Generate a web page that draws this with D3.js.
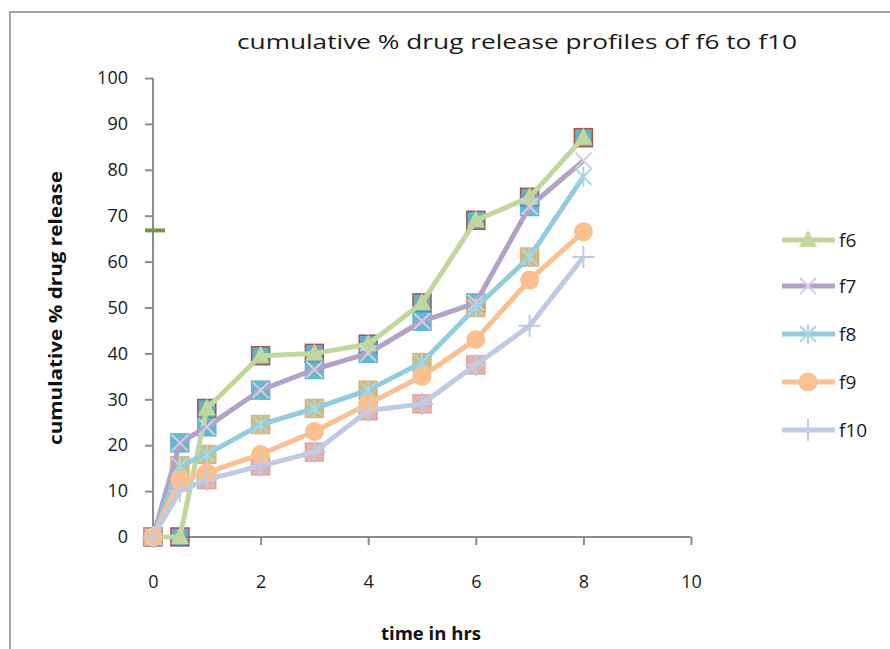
<!DOCTYPE html>
<html>
<head>
<meta charset="utf-8">
<script src="https://cdn.jsdelivr.net/npm/d3@7"></script>
<style>
  body { margin: 0; background: #fff; }
  svg { display: block; font-family: "Open Sans", "Liberation Sans", sans-serif; }
</style>
</head>
<body>
<svg id="chart" width="890" height="649"></svg>
<script>
"use strict";

// time points (hrs)
const times = [0, 0.5, 1, 2, 3, 4, 5, 6, 7, 8];

// cumulative % drug release
const f6 = [0, 0, 28, 39.5, 40, 42, 51, 69, 74, 87];
const f7 = [0, 20.5, 24, 32, 36.5, 40, 47, 51, 72, 82];
const f8 = [0, 15.5, 18, 24.5, 28, 32, 38, 50, 61, 78.5];
const f9 = [0, 12.5, 14, 18, 23, 29, 35, 43, 56, 66.5];
const f10 = [0, 10, 12.5, 15.5, 18.5, 27.5, 29, 37.5, 46, 61];

const seriesNames = ["f6", "f7", "f8", "f9", "f10"];
const seriesValues = [f6, f7, f8, f9, f10];

// leftover square markers that sit under some series in the original
// (which time points of each series show one)
const ghostF6 = [0, 0.5, 1, 2, 3, 4, 5, 6, 7, 8];
const ghostF7 = [0.5, 1, 2, 3, 4, 5, 6, 7];
const ghostF8 = [0.5, 1, 2, 3, 4, 5, 6, 7];
const ghostF10 = [0, 1, 2, 3, 4, 5, 6];
const ghostTimes = { f6: ghostF6, f7: ghostF7, f8: ghostF8, f10: ghostF10 };

// stray dash marker on the y axis
const strayTime = [0];
const strayValue = [66.8];

const xTicks = [0, 2, 4, 6, 8, 10];
const yTicks = [0, 10, 20, 30, 40, 50, 60, 70, 80, 90, 100];

const style = {
  f6:  { line: "#c3d69b", marker: "triangle", fill: "#c3d69b", ghost: "#4ba3bb", ghostStroke: "#8e3b39" },
  f7:  { line: "#b3a2c7", marker: "x", fill: "#d5cce3", ghost: "#4bacc6", ghostStroke: "#4bacc6" },
  f8:  { line: "#93cddd", marker: "star", fill: "#a9d6e3", ghost: "#c3b46a", ghostStroke: "#e8a05a" },
  f9:  { line: "#fac090", marker: "circle", fill: "#fac090" },
  f10: { line: "#c0cbe3", marker: "plus", fill: "#c0cbe3", ghost: "#dba7a6", ghostStroke: "#d99694" }
};

const svg = d3.select("#chart");

// chart frame
svg.append("rect")
  .attr("x", 10).attr("y", 12)
  .attr("width", 900).attr("height", 660)
  .attr("fill", "#fff")
  .attr("stroke", "#a6a6a6")
  .attr("stroke-width", 2);

const x = d3.scaleLinear().domain([0, 10]).range([153, 691]);
const y = d3.scaleLinear().domain([0, 100]).range([537, 78]);

const axisColor = "#8c8c8c";

// y axis
const yAxis = svg.append("g")
  .attr("transform", `translate(${x(0)},0)`)
  .call(d3.axisLeft(y).tickValues(yTicks).tickSize(8).tickPadding(17));
// x axis
const xAxis = svg.append("g")
  .attr("transform", `translate(0,${y(0)})`)
  .call(d3.axisBottom(x).tickValues(xTicks).tickSize(8).tickPadding(30));

[yAxis, xAxis].forEach(g => {
  g.select(".domain").attr("stroke", axisColor).attr("stroke-width", 2);
  g.selectAll(".tick line").attr("stroke", axisColor).attr("stroke-width", 2);
  g.selectAll(".tick text")
    .attr("fill", "#1a1a1a")
    .style("font-size", "18px")
    .style("font-family", "'Open Sans', sans-serif");
});
xAxis.select(".domain").attr("d", `M${x(0)},0H${x(10)}`);
xAxis.selectAll(".tick").filter(d => d === 0).select("line").remove();
yAxis.select(".domain").attr("d", `M0,${y(0)}V${y(100)}`);

// title
svg.append("text")
  .attr("x", 517).attr("y", 49)
  .attr("text-anchor", "middle")
  .attr("textLength", 560)
  .attr("lengthAdjust", "spacingAndGlyphs")
  .style("font-size", "20px")
  .attr("fill", "#1a1a1a")
  .text("cumulative % drug release profiles of  f6 to f10");

// axis titles
svg.append("text")
  .attr("transform", "translate(62,308) rotate(-90)")
  .attr("text-anchor", "middle")
  .attr("textLength", 274)
  .attr("lengthAdjust", "spacingAndGlyphs")
  .style("font-size", "17px")
  .style("font-weight", "bold")
  .attr("fill", "#111")
  .text("cumulative % drug release");

svg.append("text")
  .attr("x", 431).attr("y", 640)
  .attr("text-anchor", "middle")
  .attr("textLength", 100)
  .attr("lengthAdjust", "spacingAndGlyphs")
  .style("font-size", "18px")
  .style("font-weight", "bold")
  .attr("fill", "#111")
  .text("time in hrs");

// stray dash
svg.selectAll(".stray")
  .data(strayTime)
  .enter().append("rect")
  .attr("x", (d) => x(d) - 8)
  .attr("y", (d, i) => y(strayValue[i]) - 2)
  .attr("width", 20).attr("height", 4)
  .attr("fill", "#77933c");

const data = seriesNames.map((name, i) => ({
  name,
  points: times.map((t, j) => ({ t, v: seriesValues[i][j] }))
}));

// ghost squares underneath
const ghostLayer = svg.append("g");
data.filter(s => ghostTimes[s.name]).forEach(s => {
  const st = style[s.name];
  ghostLayer.selectAll(null)
    .data(s.points.filter(p => ghostTimes[s.name].includes(p.t)))
    .enter().append("rect")
    .attr("x", (p) => x(p.t) - 9)
    .attr("y", (p) => y(p.v) - 9)
    .attr("width", 18).attr("height", 18)
    .attr("fill", st.ghost)
    .attr("stroke", st.ghostStroke)
    .attr("stroke-width", 1.5)
    .attr("opacity", 0.85);
});

const line = d3.line().x(p => x(p.t)).y(p => y(p.v));

// lines
data.forEach(s => {
  svg.append("path")
    .datum(s.points)
    .attr("fill", "none")
    .attr("stroke", style[s.name].line)
    .attr("stroke-width", 5)
    .attr("stroke-linejoin", "round")
    .attr("d", line);
});

function drawMarker(g, type, cx, cy, color) {
  if (type === "triangle") {
    g.append("path")
      .attr("d", `M${cx},${cy - 10}L${cx + 9},${cy + 7}L${cx - 9},${cy + 7}Z`)
      .attr("fill", color);
  } else if (type === "circle") {
    g.append("circle").attr("cx", cx).attr("cy", cy).attr("r", 9.5).attr("fill", color);
  } else if (type === "x") {
    g.append("path")
      .attr("d", `M${cx - 8},${cy - 8}L${cx + 8},${cy + 8}M${cx - 8},${cy + 8}L${cx + 8},${cy - 8}`)
      .attr("stroke", color).attr("stroke-width", 2);
  } else if (type === "star") {
    g.append("path")
      .attr("d", `M${cx - 8},${cy - 8}L${cx + 8},${cy + 8}M${cx - 8},${cy + 8}L${cx + 8},${cy - 8}M${cx},${cy - 10}V${cy + 10}`)
      .attr("stroke", color).attr("stroke-width", 2);
  } else if (type === "plus") {
    g.append("path")
      .attr("d", `M${cx - 11},${cy}H${cx + 11}M${cx},${cy - 11}V${cy + 11}`)
      .attr("stroke", color).attr("stroke-width", 2);
  }
}

// markers
data.forEach(s => {
  const g = svg.append("g");
  s.points.forEach(p => drawMarker(g, style[s.name].marker, x(p.t), y(p.v), style[s.name].fill));
});

// legend
const legendY = [240, 286, 334, 382, 430];
const legend = svg.append("g");
seriesNames.forEach((name, i) => {
  const st = style[name];
  legend.append("line")
    .attr("x1", 782).attr("x2", 835)
    .attr("y1", legendY[i]).attr("y2", legendY[i])
    .attr("stroke", st.line).attr("stroke-width", 5);
  drawMarker(legend, st.marker, 808, legendY[i], st.fill);
  legend.append("text")
    .attr("x", 839).attr("y", legendY[i] + 7)
    .style("font-size", "19px")
    .attr("fill", "#1a1a1a")
    .text(name);
});
</script>
</body>
</html>
